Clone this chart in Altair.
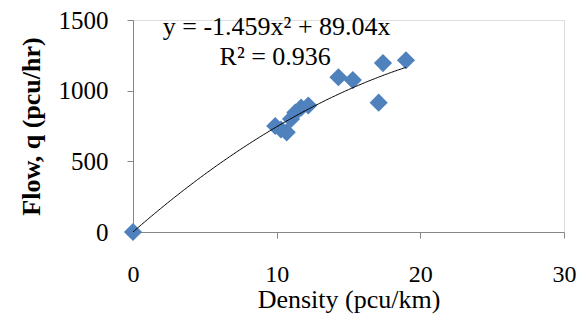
import altair as alt
import pandas as pd

density = [0, 9.9, 10.3, 10.7, 11.0, 11.3, 11.7, 12.2, 14.3, 15.3, 17.1, 17.4, 19.0]
flow = [0, 750, 725, 705, 800, 845, 880, 895, 1095, 1075, 915, 1195, 1215]

coef_a = -1.459
coef_b = 89.04
eq_lines = ["y = -1.459x² + 89.04x", "R² = 0.936"]
x_ticks = [0, 10, 20, 30]
y_ticks = [0, 500, 1000, 1500]

pts = pd.DataFrame({"density": density, "flow": flow})
txt = pd.DataFrame({"label": eq_lines, "x": [10.0, 9.9], "y": [1450, 1235]})

font = "Liberation Serif"
axis_grey = "#868686"
xs = alt.Scale(domain=[0, 30], nice=False)
ys = alt.Scale(domain=[0, 1500], nice=False)

x_axis = alt.Axis(values=x_ticks, grid=False, domain=True, domainColor=axis_grey, domainWidth=1,
                  tickColor=axis_grey, tickWidth=1, labelFlush=False,
                  tickSize=6, labelPadding=24, labelFontSize=24, labelFont=font, labelColor="black",
                  title="Density (pcu/km)", titleFont=font, titleFontSize=26, titleFontWeight="normal",
                  titleColor="black", titlePadding=0)
y_axis = alt.Axis(values=y_ticks, grid=False, domain=True, domainColor=axis_grey, domainWidth=1,
                  tickColor=axis_grey, tickWidth=1, labelFlush=False,
                  tickSize=6, labelPadding=19, labelFontSize=25, labelFont=font, labelColor="black",
                  format="d",
                  title="Flow, q (pcu/hr)", titleFont=font, titleFontSize=26, titleFontWeight="bold",
                  titleColor="black", titlePadding=14)

points = alt.Chart(pts).mark_point(shape="diamond", filled=True, size=330, color="#4F81BD", opacity=1).encode(
    x=alt.X("density:Q", scale=xs, axis=x_axis),
    y=alt.Y("flow:Q", scale=ys, axis=y_axis),
)

trend = alt.Chart(alt.sequence(0, 19.05, 0.1, as_="k")).transform_calculate(
    q=f"{coef_a}*datum.k*datum.k + {coef_b}*datum.k"
).mark_line(color="black", strokeWidth=1).encode(
    x=alt.X("k:Q", scale=xs),
    y=alt.Y("q:Q", scale=ys),
)

label = alt.Chart(txt).mark_text(font=font, fontSize=26, color="black", align="center").encode(
    x=alt.X("x:Q", scale=xs),
    y=alt.Y("y:Q", scale=ys),
    text="label:N",
)

chart = alt.layer(points, trend, label).properties(
    width=431, height=212,
    autosize=alt.AutoSizeParams(type="none"),
    padding={"left": 125, "top": 12, "right": 14, "bottom": 82},
).configure_view(stroke=None).configure(background="white")

chart.save("out.html", embed_options={"renderer": "svg", "actions": False})
